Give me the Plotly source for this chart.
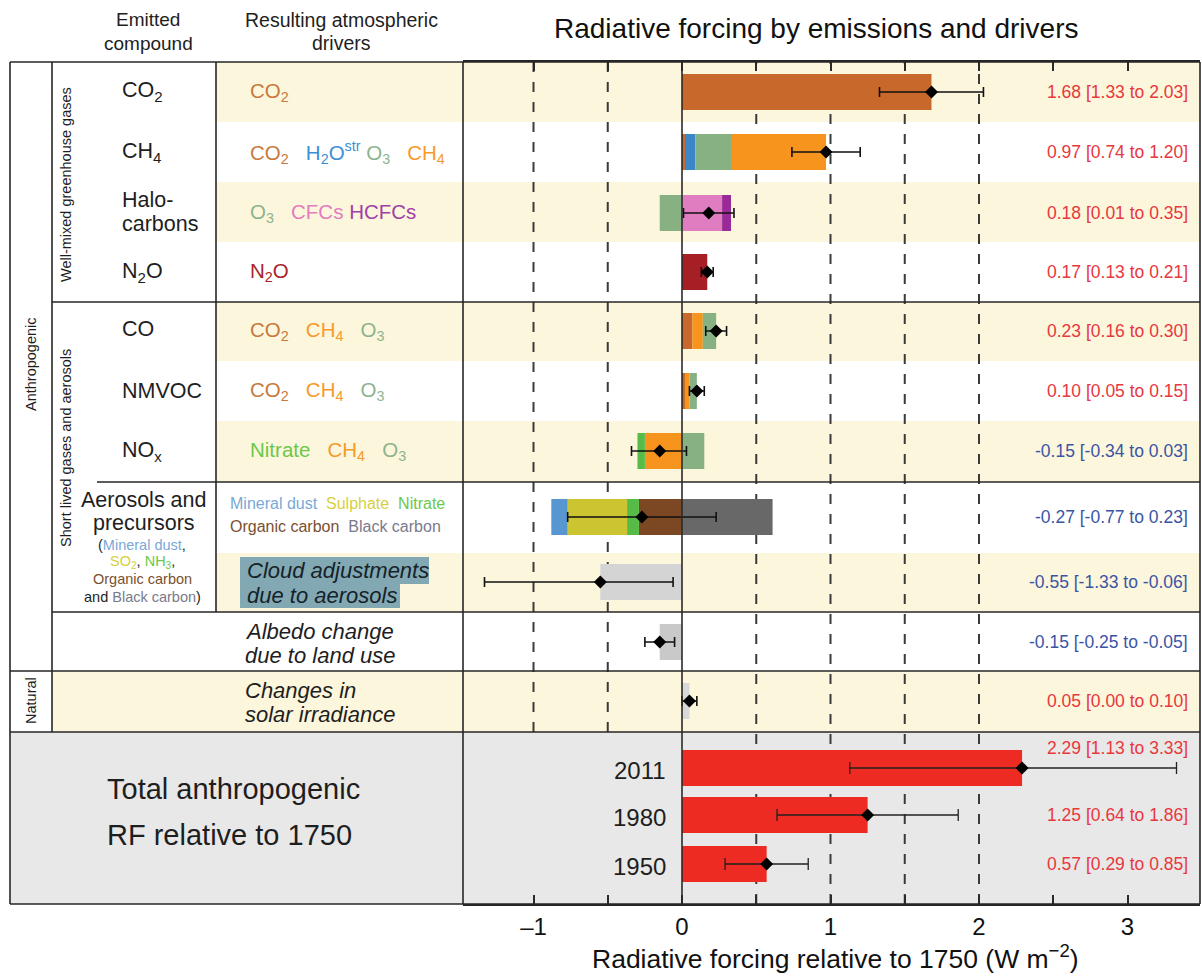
import plotly.graph_objects as go

W, H = 1202, 976

# ---------------------------------------------------------------- data
agents = ["CO2", "CH4", "Halocarbons", "N2O", "CO", "NMVOC", "NOx",
          "Aerosols", "Cloud adjustments", "Albedo change", "Solar irradiance"]
best = [1.68, 0.97, 0.18, 0.17, 0.23, 0.10, -0.15, -0.27, -0.55, -0.15, 0.05]
low = [1.33, 0.74, 0.01, 0.13, 0.16, 0.05, -0.34, -0.77, -1.33, -0.25, 0.00]
high = [2.03, 1.20, 0.35, 0.21, 0.30, 0.15, 0.03, 0.23, -0.06, -0.05, 0.10]

# contribution of each resulting driver, stacked outward from zero
co2_parts = [("CO2", 1.68)]
ch4_parts = [("CO2", 0.02), ("H2O", 0.07), ("O3", 0.24), ("CH4", 0.64)]
halo_parts = [("O3", -0.15), ("CFCs", 0.27), ("HCFCs", 0.06)]
n2o_parts = [("N2O", 0.17)]
co_parts = [("CO2", 0.07), ("CH4", 0.07), ("O3", 0.09)]
nmvoc_parts = [("CO2", 0.02), ("CH4", 0.03), ("O3", 0.05)]
nox_parts = [("CH4", -0.25), ("Nitrate", -0.05), ("O3", 0.15)]
aerosol_parts = [("Organic carbon", -0.29), ("Nitrate", -0.08), ("Sulphate", -0.40),
                 ("Mineral dust", -0.11), ("Black carbon", 0.61)]
cloud_parts = [("Cloud", -0.55)]
albedo_parts = [("Albedo", -0.15)]
solar_parts = [("Solar", 0.05)]

years = ["2011", "1980", "1950"]
total_best = [2.29, 1.25, 0.57]
total_low = [1.13, 0.64, 0.29]
total_high = [3.33, 1.86, 0.85]

tick_vals = [-1, -0.5, 0, 0.5, 1, 1.5, 2, 2.5, 3]
tick_text = ["\u20131", "", "0", "", "1", "", "2", "", "3"]

# ---------------------------------------------------------------- layout (pixel grid)
X0, X1 = 463, 1200          # plotting panel left / right
Y0, Y1 = 62, 904            # top / bottom of the whole table
row_y = [92, 152, 213, 272, 331, 391, 451, 517, 582, 642, 701]
total_y = [768, 815, 864]
BAR_H = 36

bar_colors = {
    "CO2": "#c8682a", "H2O": "#3a86c6", "O3": "#87b183", "CH4": "#f7941d",
    "CFCs": "#e07cc0", "HCFCs": "#9a2a98", "N2O": "#a51f24",
    "Nitrate": "#57bb47", "Sulphate": "#cdc432", "Mineral dust": "#5796d0",
    "Organic carbon": "#7b4823", "Black carbon": "#686868",
    "Cloud": "#d4d4d4", "Albedo": "#c9c9c9", "Solar": "#d8d8d8",
}
TOTAL_RED = "#ee2b22"
POS_TXT = "#e8383d"
NEG_TXT = "#3b55a5"
FONT = "Liberation Sans, Arial, sans-serif"


def px(x):
    return x / W


def py(y):
    return 1 - y / H


fig = go.Figure()

# stacked driver contributions
all_parts = [co2_parts, ch4_parts, halo_parts, n2o_parts, co_parts, nmvoc_parts,
             nox_parts, aerosol_parts, cloud_parts, albedo_parts, solar_parts]
for parts, yc in zip(all_parts, row_y):
    for name, val in parts:
        fig.add_trace(go.Bar(
            x=[val], y=[yc], width=[BAR_H], orientation="h",
            marker=dict(color=bar_colors[name], line=dict(width=0)),
            showlegend=False, hoverinfo="skip"))

# total anthropogenic bars
fig.add_trace(go.Bar(
    x=total_best, y=total_y, width=[BAR_H] * 3, orientation="h",
    marker=dict(color=TOTAL_RED, line=dict(width=0)),
    showlegend=False, hoverinfo="skip"))

# best estimates with uncertainty ranges
fig.add_trace(go.Scatter(
    x=best, y=row_y, mode="markers",
    marker=dict(symbol="diamond", size=10, color="#000000"),
    error_x=dict(type="data", symmetric=False,
                 array=[h - b for h, b in zip(high, best)],
                 arrayminus=[b - l for b, l in zip(best, low)],
                 color="#111111", thickness=1.6, width=5),
    showlegend=False, hoverinfo="skip"))
fig.add_trace(go.Scatter(
    x=total_best, y=total_y, mode="markers",
    marker=dict(symbol="diamond", size=10, color="#000000"),
    error_x=dict(type="data", symmetric=False,
                 array=[h - b for h, b in zip(total_high, total_best)],
                 arrayminus=[b - l for b, l in zip(total_best, total_low)],
                 color="#222222", thickness=1.3, width=6),
    showlegend=False, hoverinfo="skip"))

shapes = []
YELLOW = "#fcf6dc"
GREY = "#e8e8e8"


def rect(x0, y0, x1, y1, color, layer="below"):
    shapes.append(dict(type="rect", xref="paper", yref="paper",
                       x0=px(x0), x1=px(x1), y0=py(y0), y1=py(y1),
                       fillcolor=color, line=dict(width=0), layer=layer))


def hline(x0, x1, y, w=1.6):
    shapes.append(dict(type="line", xref="paper", yref="paper",
                       x0=px(x0), x1=px(x1), y0=py(y), y1=py(y),
                       line=dict(color="#262626", width=w), layer="above"))


def vline(x, y0, y1, w=1.6):
    shapes.append(dict(type="line", xref="paper", yref="paper",
                       x0=px(x), x1=px(x), y0=py(y0), y1=py(y1),
                       line=dict(color="#262626", width=w), layer="above"))


# alternating row bands
for (a, b) in [(62, 122), (182, 242), (302, 361), (421, 482), (553, 612)]:
    rect(216, a, X1, b, YELLOW)
rect(52, 671, X1, 732, YELLOW)
rect(10, 732, X1, Y1, GREY)

# dashed reference lines
for v in [-1, -0.5]:
    shapes.append(dict(type="line", xref="x", yref="paper", x0=v, x1=v,
                       y0=py(732), y1=py(Y0),
                       line=dict(color="#3a3a3a", width=2, dash="10px,10px"),
                       layer="below"))
for v in [0.5, 1, 1.5, 2]:
    shapes.append(dict(type="line", xref="x", yref="paper", x0=v, x1=v,
                       y0=py(Y1), y1=py(Y0),
                       line=dict(color="#3a3a3a", width=2, dash="10px,10px"),
                       layer="below"))
# zero line
shapes.append(dict(type="line", xref="x", yref="paper", x0=0, x1=0,
                   y0=py(Y1), y1=py(Y0),
                   line=dict(color="#2a2a2a", width=1.6), layer="above"))

# table frame
hline(10, X1, Y0)
hline(10, X1, Y1)
vline(10, Y0, Y1)
vline(X1, Y0, Y1)
vline(X0, Y0, Y1)
vline(52, Y0, 732)
vline(216, Y0, 612)
hline(52, X1, 302)
hline(97, X1, 482)
hline(52, X1, 612)
hline(10, X1, 671)
hline(10, X1, 732)

ann = []


def note(text, x, y, size, color="#1e1e1e", xanchor="left", yanchor="middle",
         angle=0, **kw):
    ann.append(dict(text=text, x=px(x), y=py(y), xref="paper", yref="paper",
                    xanchor=xanchor, yanchor=yanchor, showarrow=False,
                    textangle=angle, align=xanchor,
                    font=dict(family=FONT, size=size, color=color), **kw))


def c(txt, col):
    return f'<span style="color:{col}">{txt}</span>'


NB = "\u00a0"
DARK = "#1e1e1e"
T_CO2 = "#c77a3c"
T_H2O = "#3c8fd6"
T_O3 = "#8db48d"
T_CH4 = "#f79a2a"
T_CFC = "#e37cc1"
T_HCFC = "#a23ea8"
T_N2O = "#a8242a"
T_NIT = "#6cc84a"
T_DUST = "#7aa8d6"
T_SUL = "#d6d040"
T_OC = "#7a5030"
T_BC = "#7a7a8a"

co2s = "CO<sub>2</sub>"
ch4s = "CH<sub>4</sub>"
o3s = "O<sub>3</sub>"

# headers and title
note("Emitted", 148, 20, 19, xanchor="center")
note("compound", 148, 43, 19, xanchor="center")
note("Resulting atmospheric", 341, 20, 19.5, xanchor="center")
note("drivers", 341, 43, 19.5, xanchor="center")
note("Radiative forcing by emissions and drivers", 816, 29, 28, color="#111111",
     xanchor="center")

# emitted compounds
CS = 21.5
note(co2s, 120, row_y[0], CS)
note(ch4s, 120, row_y[1], CS)
note("Halo-", 120, 200, CS)
note("carbons", 120, 224, CS)
note("N<sub>2</sub>O", 120, row_y[3], CS)
note("CO", 120, row_y[4] - 2, CS)
note("NMVOC", 120, row_y[5], CS)
note("NO<sub>x</sub>", 120, row_y[6], CS)
note("Aerosols and", 144, 500, 21.5, xanchor="center")
note("precursors", 144, 523, 21.5, xanchor="center")
SM = 14.5
note(c("(", DARK) + c("Mineral dust", T_DUST) + c(",", DARK), 142, 545, SM,
     xanchor="center")
note(c("SO<sub>2</sub>", T_SUL) + c(", ", DARK) + c("NH<sub>3</sub>", T_NIT)
     + c(",", DARK), 142, 562, SM, xanchor="center")
note(c("Organic carbon", T_OC), 142, 579, SM, xanchor="center")
note(c("and ", DARK) + c("Black carbon", T_BC) + c(")", DARK), 142, 597, SM,
     xanchor="center")

# resulting drivers
DS = 20.5
sp = NB * 3
note(c(co2s, T_CO2), 248, row_y[0], DS)
note(c(co2s, T_CO2) + sp + c("H<sub>2</sub>O<sup>str</sup>", T_H2O) + NB
     + c(o3s, T_O3) + sp + c(ch4s, T_CH4), 248, row_y[1], DS)
note(c(o3s, T_O3) + sp + c("CFCs", T_CFC) + NB + c("HCFCs", T_HCFC),
     248, row_y[2], DS)
note(c("N<sub>2</sub>O", T_N2O), 248, row_y[3], DS)
note(c(co2s, T_CO2) + sp + c(ch4s, T_CH4) + sp + c(o3s, T_O3),
     248, row_y[4], DS)
note(c(co2s, T_CO2) + sp + c(ch4s, T_CH4) + sp + c(o3s, T_O3),
     248, row_y[5], DS)
note(c("Nitrate", T_NIT) + sp + c(ch4s, T_CH4) + sp + c(o3s, T_O3),
     248, row_y[6], DS)
note(c("Mineral dust", T_DUST) + NB * 2 + c("Sulphate", T_SUL) + NB * 2
     + c("Nitrate", T_NIT), 228, 503, 16)
note(c("Organic carbon", T_OC) + NB * 2 + c("Black carbon", T_BC), 228, 526, 16)
IS = 22
shapes.append(dict(type="rect", xref="paper", yref="paper",
                   x0=px(240), x1=px(429), y0=py(557), y1=py(584),
                   fillcolor="#82a9b3", line=dict(width=0), layer="below"))
shapes.append(dict(type="rect", xref="paper", yref="paper",
                   x0=px(240), x1=px(400), y0=py(583), y1=py(608),
                   fillcolor="#82a9b3", line=dict(width=0), layer="below"))
note("<i>Cloud adjustments</i>", 245, 570, IS, color="#16222a")
note("<i>due to aerosols</i>", 245, 595, IS, color="#16222a")
note("<i>Albedo change</i>", 243, 631, IS)
note("<i>due to land use</i>", 243, 655, IS)
note("<i>Changes in</i>", 243, 690, IS)
note("<i>solar irradiance</i>", 243, 714, IS)

# rotated group labels
RS = 14.5
note("Anthropogenic", 31, 364, RS, xanchor="center", angle=-90)
note("Natural", 31, 701, RS, xanchor="center", angle=-90)
note("Well-mixed greenhouse gases", 66, 185, RS, xanchor="center", angle=-90)
note("Short lived gases and aerosols", 66, 448, RS, xanchor="center", angle=-90)

# totals
note("Total anthropogenic", 105, 789, 29)
note("RF relative to 1750", 105, 835, 29)
for yr, yc in zip(years, total_y):
    note(yr, 668, yc + 2, 24, xanchor="right")

# value labels


def fmt(b, l, h):
    return f"{b:.2f} [{l:.2f} to {h:.2f}]"


VS = 17.5
for b, l, h, yc in zip(best, low, high, row_y):
    note(fmt(b, l, h), 1190, yc, VS, color=POS_TXT if b >= 0 else NEG_TXT,
         xanchor="right")
label_y = [748, total_y[1], total_y[2]]
for b, l, h, yc in zip(total_best, total_low, total_high, label_y):
    note(fmt(b, l, h), 1190, yc, VS, color=POS_TXT, xanchor="right")

# axis title
note("Radiative forcing relative to 1750 (W m<sup>\u22122</sup>)", 835, 957, 26.5,
     color="#111111", xanchor="center")

fig.update_layout(
    width=W, height=H, barmode="relative",
    margin=dict(l=0, r=0, t=0, b=0),
    paper_bgcolor="white", plot_bgcolor="rgba(0,0,0,0)",
    shapes=shapes, annotations=ann,
    xaxis=dict(domain=[px(X0), px(X1)], range=[(X0 - 682) / 148.5, (X1 - 682) / 148.5],
               tickvals=tick_vals, ticktext=tick_text, ticks="inside", ticklen=9,
               tickwidth=1.5, tickcolor="#2a2a2a", mirror="allticks",
               showline=True, linecolor="#262626", linewidth=1.6,
               showgrid=False, zeroline=False,
               tickfont=dict(family=FONT, size=24, color="#111111")),
    yaxis=dict(domain=[py(Y1), py(Y0)], range=[Y1, Y0], visible=False,
               showgrid=False, zeroline=False),
)

fig.write_html("out.html")
